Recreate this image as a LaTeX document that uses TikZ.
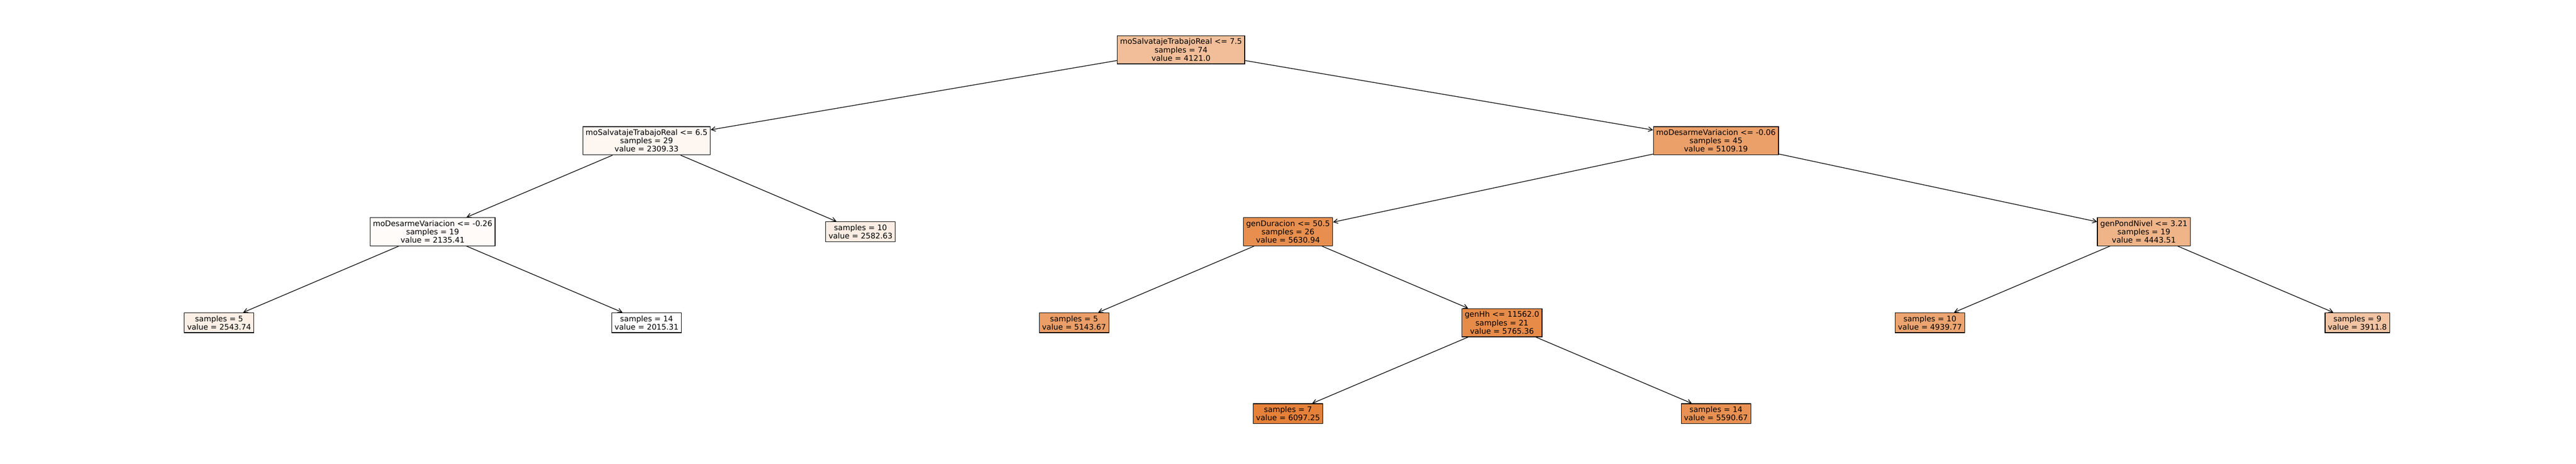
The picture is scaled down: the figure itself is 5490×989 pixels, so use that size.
\documentclass[tikz,border=0pt]{standalone}
\usepackage{fontspec}
\setmainfont{DejaVu Sans}
\usetikzlibrary{arrows.meta}

\definecolor{vRoot}{RGB}{242,190,153}
\definecolor{vA}{RGB}{253,246,241}
\definecolor{vB}{RGB}{254,251,249}
\definecolor{vC}{RGB}{235,159,105}
\definecolor{vD}{RGB}{232,143,79}
\definecolor{vE}{RGB}{231,139,73}
\definecolor{vF}{RGB}{240,180,137}
\definecolor{lfA}{RGB}{252,239,229}
\definecolor{lfB}{RGB}{255,255,255}
\definecolor{lfC}{RGB}{251,237,227}
\definecolor{lfD}{RGB}{235,158,103}
\definecolor{lfE}{RGB}{229,129,57}
\definecolor{lfF}{RGB}{232,145,82}
\definecolor{lfG}{RGB}{236,165,113}
\definecolor{lfH}{RGB}{243,196,163}

\begin{document}
\begin{tikzpicture}[x=0.02cm, y=-0.02cm,
    treebox/.style={rectangle, draw=black, line width=0.8pt, align=center,
        inner xsep=3.4pt, inner ysep=3.4pt,
        font=\fontsize{9.3pt}{10.1pt}\selectfont},
    edge/.style={line width=0.8pt, -{Straight Barb[length=5pt, width=5.5pt]}}]

        \useasboundingbox (0,0) rectangle (5490,989);

        % splits
        \node[treebox, fill=vRoot] (root) at (2517,106) {moSalvatajeTrabajoReal <= 7.5\\samples = 74\\value = 4121.0};

        \node[treebox, fill=vA] (nA) at (1378,300) {moSalvatajeTrabajoReal <= 6.5\\samples = 29\\value = 2309.33};
        \node[treebox, fill=vC] (nC) at (3657,300) {moDesarmeVariacion <= -0.06\\samples = 45\\value = 5109.19};

        \node[treebox, fill=vB] (nB) at (922,494) {moDesarmeVariacion <= -0.26\\samples = 19\\value = 2135.41};
        \node[treebox, fill=vD] (nD) at (2745,494) {genDuracion <= 50.5\\samples = 26\\value = 5630.94};
        \node[treebox, fill=vF] (nF) at (4569,494) {genPondNivel <= 3.21\\samples = 19\\value = 4443.51};

        \node[treebox, fill=vE] (nE) at (3201,688) {genHh <= 11562.0\\samples = 21\\value = 5765.36};

        % leaves
        \node[treebox, fill=lfC] (lC) at (1834,494) {samples = 10\\value = 2582.63};

        \node[treebox, fill=lfA] (lA) at (467,688) {samples = 5\\value = 2543.74};
        \node[treebox, fill=lfB] (lB) at (1378,688) {samples = 14\\value = 2015.31};
        \node[treebox, fill=lfD] (lD) at (2289,688) {samples = 5\\value = 5143.67};
        \node[treebox, fill=lfG] (lG) at (4113,688) {samples = 10\\value = 4939.77};
        \node[treebox, fill=lfH] (lH) at (5024,688) {samples = 9\\value = 3911.8};

        \node[treebox, fill=lfE] (lE) at (2745,882) {samples = 7\\value = 6097.25};
        \node[treebox, fill=lfF] (lF) at (3657,882) {samples = 14\\value = 5590.67};

        % edges
        \draw[edge] (root) -- (nA);
        \draw[edge] (root) -- (nC);
        \draw[edge] (nA) -- (nB);
        \draw[edge] (nA) -- (lC);
        \draw[edge] (nB) -- (lA);
        \draw[edge] (nB) -- (lB);
        \draw[edge] (nC) -- (nD);
        \draw[edge] (nC) -- (nF);
        \draw[edge] (nD) -- (lD);
        \draw[edge] (nD) -- (nE);
        \draw[edge] (nE) -- (lE);
        \draw[edge] (nE) -- (lF);
        \draw[edge] (nF) -- (lG);
        \draw[edge] (nF) -- (lH);
    \end{tikzpicture}
\end{document}
